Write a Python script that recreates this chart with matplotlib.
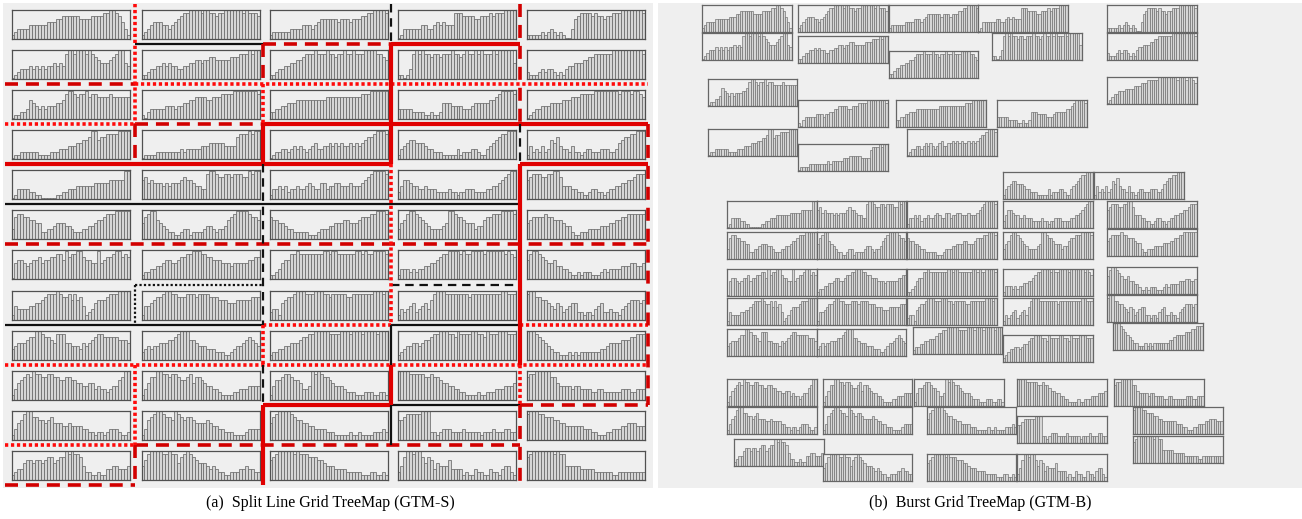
import matplotlib
matplotlib.use("Agg")
import matplotlib.pyplot as plt
from matplotlib.patches import Rectangle

# ---------------- data: bar levels (0-9) of every small time-series tile ----------------
ROW01 = ["1233334444 4455566777 7776666777 7889987531",
         "1234555443 4567889999 8998878899 9999898887",
         "1222222333 3444345666 6665666566 6778899998",
         "0133333344 3345454448 8877776677 7878889999",
         "1111121232 1210036788 8878776778 8899999998"]
ROW02 = ["0123334343 4344545489 9899989876 5556789954",
         "1123344545 4433445566 5667766666 7778889899",
         "1123344556 6788898889 8878898898 8899998876",
         "1101389898 8788788898 8789889898 8898999995",
         "2111232332 1213445556 6778888889 9999999998"]
ROW03 = ["0112236543 4344455689 9878897887 7778777777",
         "1023333344 4344556677 7766777888 8999999998",
         "2233445556 6666666667 7777777777 7888999999",
         "3333322221 1211255544 4433345555 5667899998",
         "0123344455 5566677788 8889999999 9899989987"]
ROW04 = ["0112222221 1112223334 4455667996 7788889999",
         "0111122222 2223233333 4445555544 4478889899",
         "0122332343 4323453344 5454544545 4567789998",
         "1345665554 3322211111 3122233211 3456788999",
         "1423242365 7433242212 3322233322 3567788999"]
ROW05 = ["0133332211 0000011223 3344444455 5556666699",
         "6756555454 5556766544 3389987788 7888779899",
         "1334342334 3345433553 4455444544 4567899998",
         "2466544334 3332222322 1223332222 3344567899",
         "6788877889 9744433221 1233221233 4455667888"]
ROW06 = ["3788776655 2233455544 3222334456 6788899999",
         "5789965432 2112331222 2344323346 7899998776",
         "7665543322 2221112333 4455566555 6777889998",
         "3568998765 4333345998 7765553446 7788899998",
         "5677778776 6654421122 2333344455 6677888888"]
ROW07 = ["0566545667 5667788697 8899766559 5677899787",
         "1223344566 5567788999 8877666555 4555556677",
         "1123566889 8888888899 8998888889 9898899998",
         "1333232334 4556788999 9898899998 9999998987",
         "6899876556 4433211212 2211123233 3344455445"]
ROW08 = ["1433334455 6788898778 6867412356 6678889999",
         "1445677899 8877788878 8887776665 5566666777",
         "2331567789 9988899988 7888887788 8888899989",
         "1323452345 3689998888 8888788888 8888899888",
         "8997766543 5423455221 2213452232 2134566656"]
ROW09 = ["3455567799 8776588855 4443545678 8777776665",
         "2343445556 6789996654 4433322211 2344567654",
         "1223344555 6778899999 8888999899 9899998999",
         "1234455456 6788999887 9888899887 9888999888",
         "9998765432 2111212122 2222233455 5566677888"]
ROW10 = ["1356787988 7788776677 6655445534 3323446799",
         "1357799887 8876678577 6544332111 1223334444",
         "1466788766 5334989877 6544432221 1122211221",
         "9999888887 7877655443 3221111211 2223334445",
         "7889999977 5444434433 3322332222 2233322333"]
ROW11 = ["1356899776 6567555445 4444332212 2123332112",
         "1367899877 6987677655 5565443322 2111123333",
         "5789999876 6554433332 2211111211 2111122232",
         "6678888899 9221233322 2232222212 2232223322",
         "8999887776 6554444443 3322111223 3344555444"]
ROW12 = ["1233566566 5677567798 9887422112 1133443334",
         "4689999889 8857898765 5543432211 2223343322",
         "6789999989 8887776654 4433332222 2111221121",
         "2479989975 7635444633 3312113221 1322134421",
         "7899999998 9884444433 3332222221 1222222222"]
ROWS = [ROW01, ROW02, ROW03, ROW04, ROW05, ROW06,
        ROW07, ROW08, ROW09, ROW10, ROW11, ROW12]

# split lines of GTM-S: (row boundary, col from, col to, style) / (col boundary, row from, row to, style)
H_LINES = [(1, 1, 2, 'k-'), (1, 2, 3, 'r--'), (1, 3, 4, 'r-'),
           (2, 0, 1, 'r--'), (2, 1, 5, 'r:'),
           (3, 0, 1, 'r:'), (3, 1, 2, 'r--'), (3, 2, 5, 'r-'),
           (4, 0, 3, 'r-'), (4, 4, 5, 'r-'),
           (5, 0, 4, 'k-'),
           (6, 0, 5, 'r--'),
           (7, 1, 2, 'k:'), (7, 3, 4, 'k--'),
           (8, 0, 2, 'k-'), (8, 2, 3, 'r:'), (8, 3, 4, 'k-'), (8, 4, 5, 'r:'),
           (9, 0, 5, 'r:'),
           (10, 2, 3, 'r-'), (10, 3, 4, 'k-'), (10, 4, 5, 'r--'),
           (11, 0, 1, 'r:'), (11, 1, 4, 'r--'),
           (12, 0, 1, 'r--')]
V_LINES = [(1, 0, 3, 'r:'), (1, 3, 4, 'r--'), (1, 7, 8, 'k:'), (1, 9, 11, 'r:'), (1, 11, 12, 'r--'),
           (2, 1, 2, 'r--'), (2, 2, 3, 'r:'), (2, 3, 4, 'r-'), (2, 4, 8, 'k--'), (2, 8, 9, 'r:'),
           (2, 9, 10, 'k--'), (2, 10, 12, 'r-'),
           (3, 0, 1, 'k--'), (3, 1, 4, 'r-'), (3, 4, 8, 'r:'), (3, 8, 9, 'k-'), (3, 9, 10, 'r-'),
           (3, 10, 11, 'k-'),
           (4, 0, 3, 'r--'), (4, 3, 4, 'k--'), (4, 4, 9, 'r-'), (4, 9, 10, 'r:'), (4, 10, 12, 'r--'),
           (5, 3, 10, 'r--')]

CAPTIONS = ["(a)  Split Line Grid TreeMap (GTM-S)", "(b)  Burst Grid TreeMap (GTM-B)"]

# ---------------- layout ----------------
W, H = 1302, 519
XB = [5, 135, 263, 391, 520, 648]
YB = [4 + 40.08 * j for j in range(13)]
LT_W, LT_H = 118, 29
RT_W, RT_H = 89.5, 27
# GTM-B tile placement: (grid row, grid col, x px, y px)
RIGHT_LAYOUT = [
    (0, 0, 702, 5), (1, 0, 702, 33), (0, 1, 798, 5), (1, 1, 798, 36),
    (0, 2, 889, 5), (1, 2, 889, 51), (0, 3, 978, 5), (1, 3, 992, 33),
    (0, 4, 1107, 5), (1, 4, 1107, 33), (2, 0, 708, 79), (2, 1, 798, 100),
    (2, 2, 896, 100), (2, 3, 997, 100), (2, 4, 1107, 77), (3, 0, 708, 129),
    (3, 1, 798, 144), (3, 2, 907, 129), (3, 3, 1003, 172), (3, 4, 1094, 172),
    (4, 0, 727, 201), (4, 1, 817, 201), (4, 2, 907, 201), (4, 3, 1003, 201), (4, 4, 1107, 201),
    (5, 0, 727, 232), (5, 1, 817, 232), (5, 2, 907, 232), (5, 3, 1003, 232), (5, 4, 1107, 229),
    (6, 0, 727, 269), (6, 1, 817, 269), (6, 2, 907, 269), (6, 3, 1003, 269), (6, 4, 1107, 267),
    (7, 0, 727, 298), (7, 1, 817, 298), (7, 2, 907, 298), (7, 3, 1003, 298), (7, 4, 1107, 295),
    (8, 0, 727, 329), (8, 1, 817, 329), (8, 2, 913, 327), (8, 3, 1003, 335), (8, 4, 1113, 323),
    (9, 0, 727, 379), (9, 1, 823, 379), (9, 2, 914, 379), (9, 3, 1017, 379), (9, 4, 1114, 379),
    (10, 0, 727, 407), (10, 1, 823, 407), (10, 2, 927, 407), (10, 3, 1017, 416), (10, 4, 1133, 407),
    (11, 0, 734, 439), (11, 1, 823, 454), (11, 2, 927, 454), (11, 3, 1017, 454), (11, 4, 1133, 436),
]

STYLE = {
    'r-': dict(color='#e00000', lw=3.0),
    'r--': dict(color='#d20000', lw=2.6, dashes=(3.6, 2.2)),
    'r:': dict(color='#ff0a0a', lw=2.6, dashes=(0.9, 0.75)),
    'k-': dict(color='#111111', lw=1.6),
    'k--': dict(color='#111111', lw=1.6, dashes=(3.8, 2.6)),
    'k:': dict(color='#111111', lw=1.6, dashes=(1.0, 1.0)),
}
BG = '#efefef'


def levels(s):
    return [int(ch) for ch in s.replace(" ", "")]


fig = plt.figure(figsize=(W / 100, H / 100), dpi=100)
fig.patch.set_facecolor('white')

bg = fig.add_axes([0, 0, 1, 1], zorder=0)
bg.set_xlim(0, W)
bg.set_ylim(H, 0)
bg.axis('off')
bg.add_patch(Rectangle((3, 3), 650, 485, facecolor=BG, edgecolor='none'))
bg.add_patch(Rectangle((658, 3), 644, 485, facecolor=BG, edgecolor='none'))


def tile(x, y, w, h, s, lw_bar, edge):
    ax = fig.add_axes([x / W, 1 - (y + h) / H, w / W, h / H], zorder=1)
    vals = levels(s)
    n = len(vals)
    heights = [0.05 + v * 0.104 for v in vals]
    ax.bar(range(n), heights, width=1.0, color='#d6d6d6', edgecolor='#6a6a6a',
           linewidth=lw_bar, align='center')
    ax.set_xlim(-0.5, n - 0.5)
    ax.set_ylim(0, 1.0)
    ax.set_facecolor(BG)
    ax.set_xticks([])
    ax.set_yticks([])
    for sp in ax.spines.values():
        sp.set_color(edge)
        sp.set_linewidth(0.9)
    return ax


# left panel tiles
for r, row in enumerate(ROWS):
    for c, s in enumerate(row):
        tile(XB[c] + 6.5, YB[r] + 6, LT_W, LT_H, s, 0.55, '#505050')

# right panel tiles
for r, c, x, y in RIGHT_LAYOUT:
    tile(x, y, RT_W, RT_H, ROWS[r][c], 0.45, '#666666')

# split lines overlay
ov = fig.add_axes([0, 0, 1, 1], zorder=3)
ov.set_xlim(0, W)
ov.set_ylim(H, 0)
ov.axis('off')
ov.patch.set_alpha(0)
for j, c0, c1, st in H_LINES:
    ov.plot([XB[c0], XB[c1]], [YB[j], YB[j]], solid_capstyle='butt',
            dash_capstyle='butt', **STYLE[st])
for k, r0, r1, st in V_LINES:
    ov.plot([XB[k], XB[k]], [YB[r0], YB[r1]], solid_capstyle='butt',
            dash_capstyle='butt', **STYLE[st])

fig.text(330 / W, 1 - 503 / H, CAPTIONS[0], ha='center', va='center',
         family='Liberation Serif', fontsize=11.5)
fig.text(980 / W, 1 - 503 / H, CAPTIONS[1], ha='center', va='center',
         family='Liberation Serif', fontsize=11.5)

fig.savefig('out.png', dpi=100, facecolor='white')
